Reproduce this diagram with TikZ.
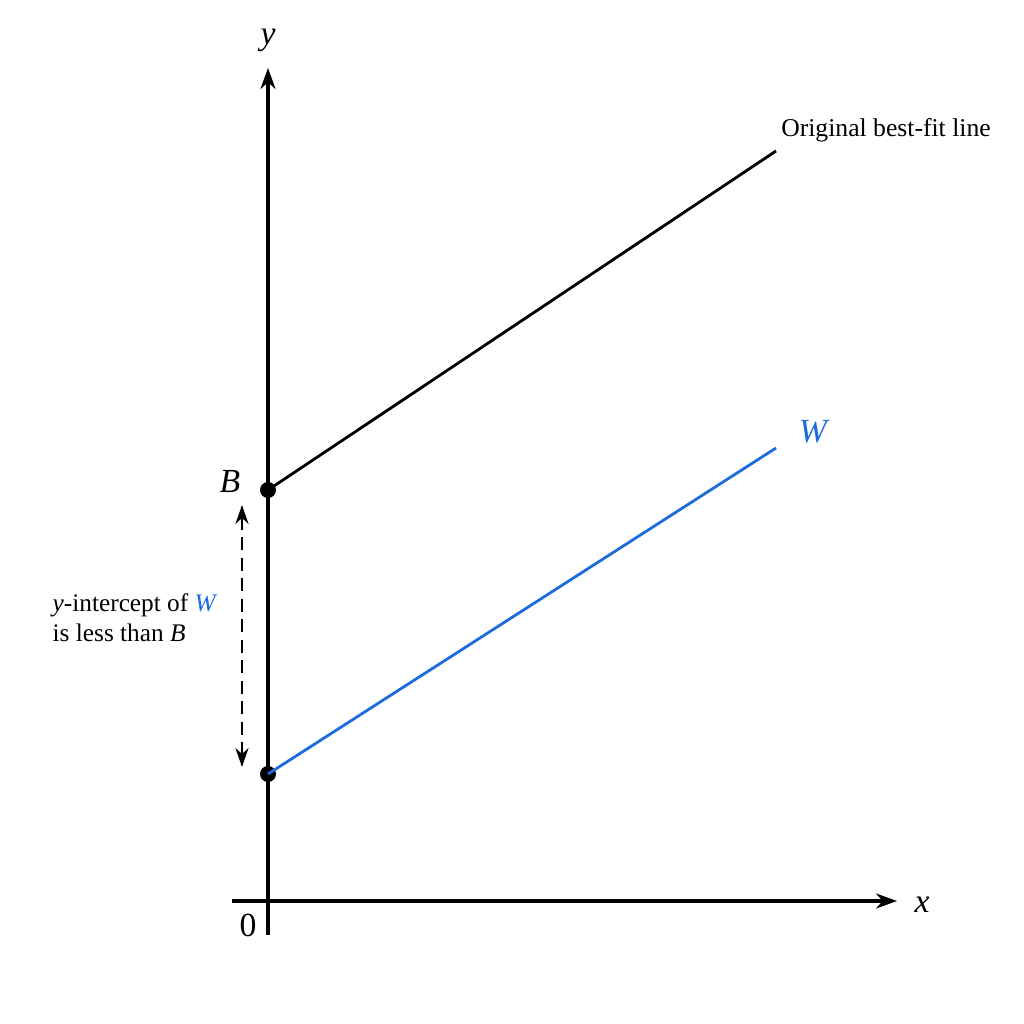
\documentclass[tikz,border=0pt]{standalone}
\usepackage{fontspec}
\setmainfont{Liberation Serif}
\usepackage{tikz}
\usetikzlibrary{arrows.meta,positioning}
\definecolor{wblue}{RGB}{28,108,222}

\begin{document}
\begin{tikzpicture}[
    axis/.style={line width=0.95pt, -{Stealth[length=2.1mm,width=1.5mm]}},
    fitline/.style={line width=0.8pt},
    gap/.style={line width=0.75pt, dash pattern=on 1.3mm off 0.75mm, {Stealth[length=1.9mm,width=1.3mm]}-{Stealth[length=1.9mm,width=1.3mm]}},
    dot/.style={circle, fill=black, inner sep=0pt, minimum size=1.6mm},
    biglab/.style={font=\fontsize{9.6}{11}\selectfont\itshape},
    smalllab/.style={font=\fontsize{7.2}{8.6}\selectfont}
  ]
      \useasboundingbox (0, 0) rectangle (10.24, 10.24);

      % axes
      \coordinate (O) at (2.68, 1.23);
      \coordinate (ybot) at (2.68, 0.89);
      \coordinate (ytop) at (2.68, 9.56);
      \coordinate (xleft) at (2.32, 1.23);
      \coordinate (xright) at (8.97, 1.23);
      \draw[axis] (ybot) -- (ytop);
      \draw[axis] (xleft) -- (xright);

      \node[biglab] (ylab) at (2.68, 9.84) {y};
      \node[biglab] (xlab) at (9.22, 1.19) {x};
      \node[biglab, font=\fontsize{9.6}{11}\selectfont] (zero) at (2.48, 0.99) {0};

      % the two lines
      \node[dot] (Bpt) at (2.68, 5.34) {};
      \node[dot] (Wpt) at (2.68, 2.50) {};
      \coordinate (Bend) at (7.76, 8.73);
      \coordinate (Wend) at (7.76, 5.76);
      \draw[fitline] (Bpt.center) -- (Bend);
      \draw[fitline, wblue] (Wpt.center) -- (Wend);

      \node[smalllab, font=\fontsize{7.3}{9}\selectfont] (origlab) at (8.86, 8.94) {Original best-fit line};
      \node[biglab, wblue] (Wlab) at (8.13, 5.92) {W};
      \node[biglab] (Blab) at (2.30, 5.42) {B};

      % gap between intercepts
      \coordinate (gtop) at (2.42, 5.19);
      \coordinate (gbot) at (2.42, 2.57);
      \draw[gap] (gtop) -- (gbot);

      \node[smalllab, anchor=west, align=left, inner sep=0pt] (gaplab) at (0.52, 4.06)
        {\textit{y}-intercept of \textcolor{wblue}{\textit{W}}\\is less than \textit{B}};
\end{tikzpicture}
\end{document}
